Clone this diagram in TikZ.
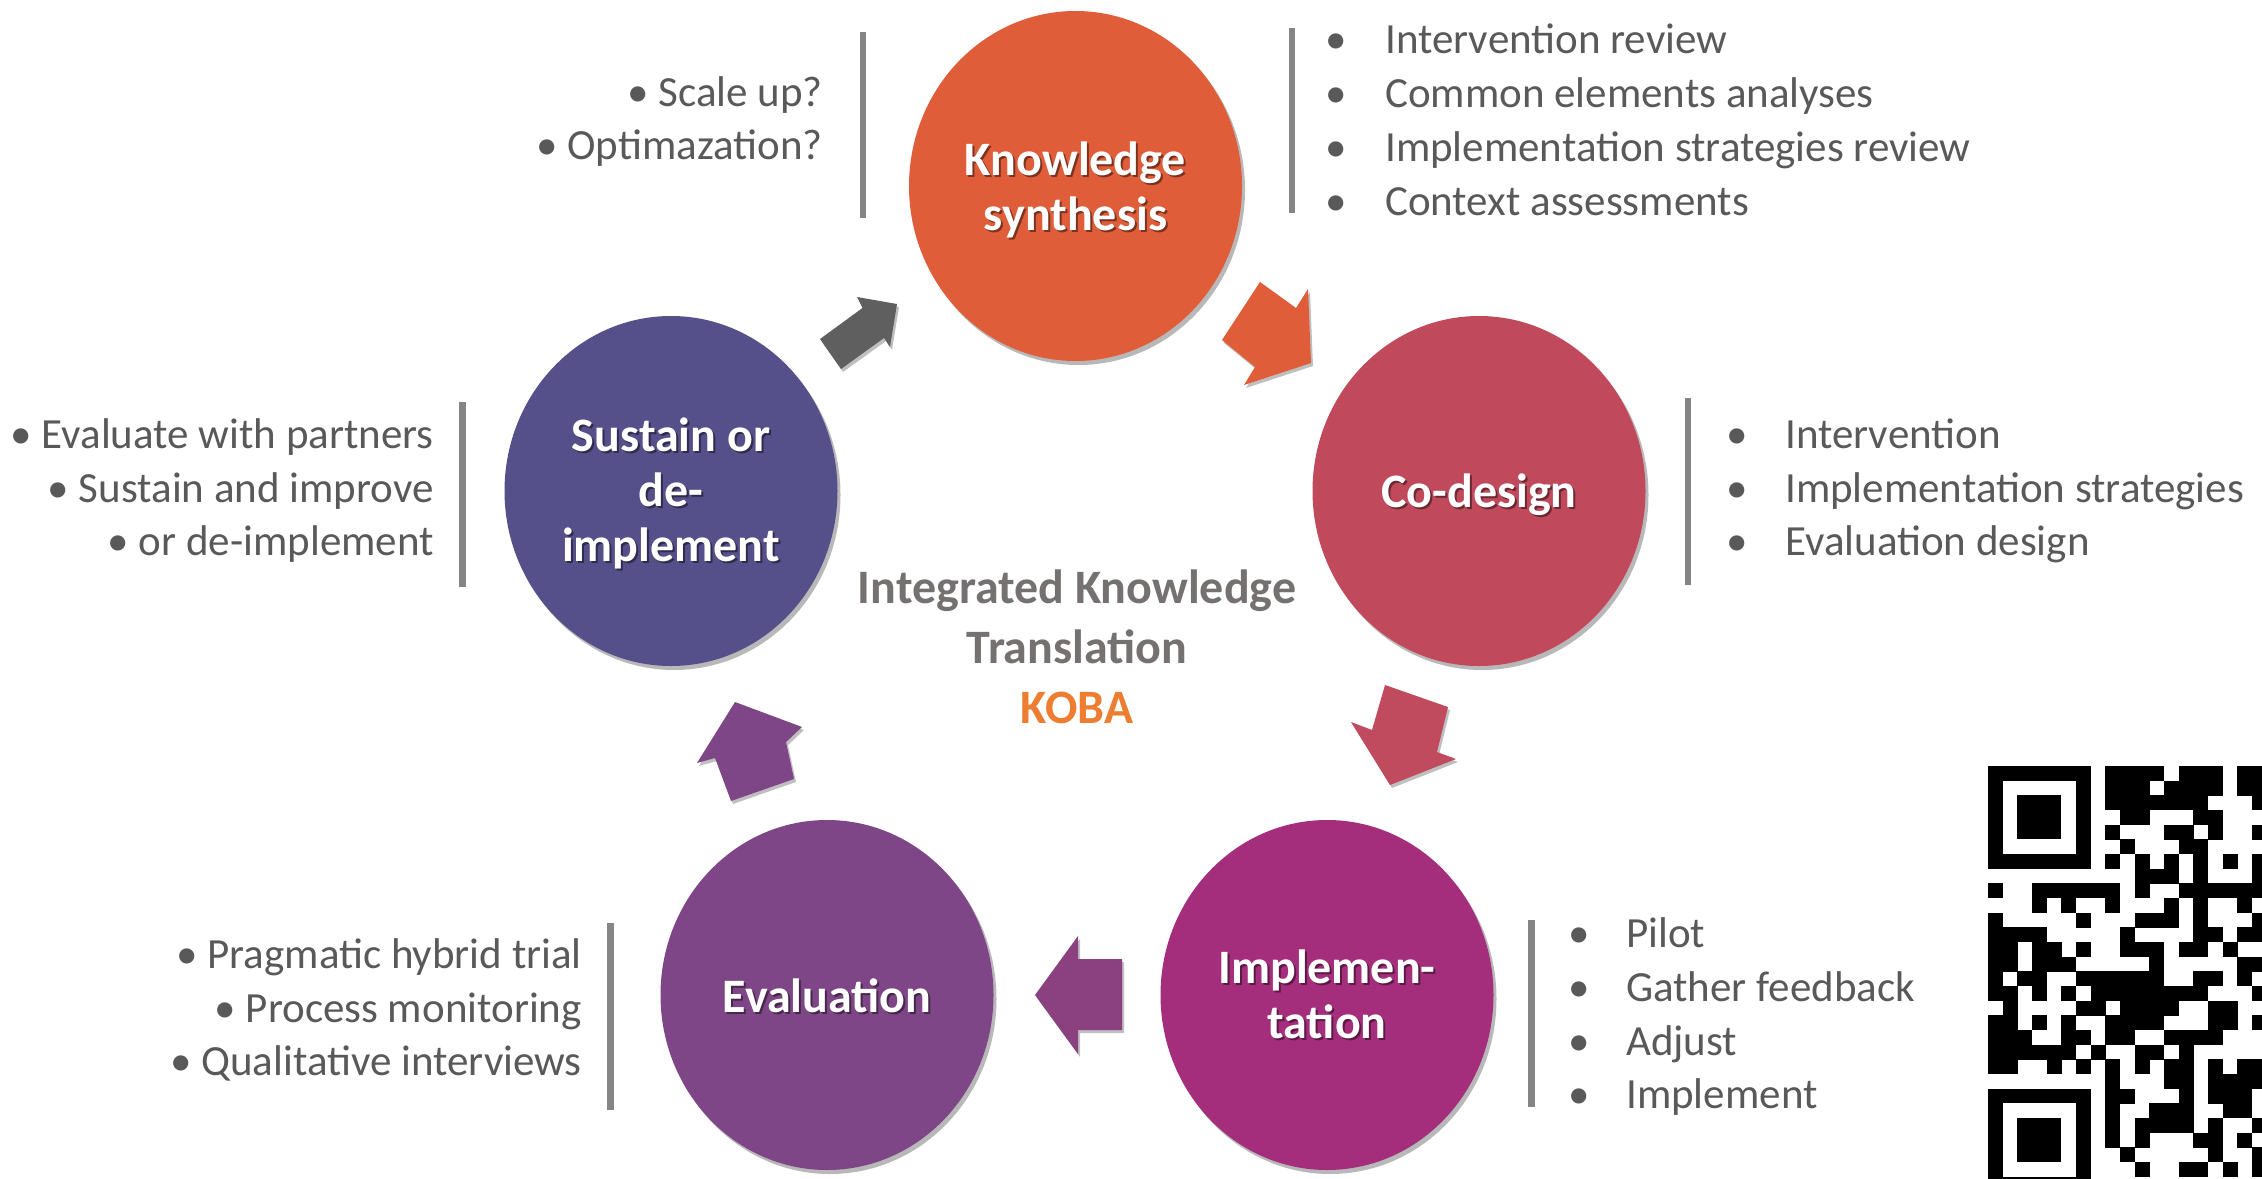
\documentclass[tikz,border=0pt]{standalone}
\usepackage{fontspec}
\setmainfont{Carlito}
\usetikzlibrary{shapes.geometric,shadows}
\definecolor{ksyn}{HTML}{E05D3A}
\definecolor{codes}{HTML}{C04A5C}
\definecolor{impl}{HTML}{A52E7C}
\definecolor{evalc}{HTML}{7E4687}
\definecolor{sust}{HTML}{554F8A}
\definecolor{arrgray}{HTML}{5F5F5F}
\definecolor{arrcod}{HTML}{C04A5E}
\definecolor{arrimp}{HTML}{8B4080}
\definecolor{txtgray}{HTML}{595959}
\definecolor{bargray}{HTML}{858585}
\definecolor{titlegray}{HTML}{767171}
\definecolor{kobaor}{HTML}{ED7D31}
\newcommand\sh[3][0pt]{\raisebox{-#1}[\height][\depth]{\rlap{\kern2pt\raisebox{-2pt}{\textcolor{#2}{#3}}}#3}}
\newcommand\blt[1]{\llap{•\hspace{#1}}}
\begin{document}
\begin{tikzpicture}[x=1pt,y=-1pt,
  stage/.style={ellipse, fill=#1, minimum width=333pt, minimum height=350pt,
    inner sep=0pt, text=white, align=center,
    font=\fontsize{48}{55}\selectfont\bfseries,
    drop shadow={shadow xshift=3pt, shadow yshift=-4pt, opacity=0.28, fill=black}},
  blockarrow/.style={fill=#1, drop shadow={shadow xshift=2pt, shadow yshift=-3pt, opacity=0.25, fill=black}},
  btxt/.style={text=txtgray, font=\fontsize{43}{54}\selectfont, inner sep=0pt},
  bar/.style={draw=bargray, line width=6.5pt},
  ttl/.style={text=titlegray, font=\fontsize{48}{55}\selectfont\bfseries, inner sep=0pt, anchor=base},
  qr/.style={fill=black}
]
\useasboundingbox (0,0) rectangle (2262,1178);
\fill[white] (0,0) rectangle (2262,1178);
\clip (0,0) rectangle (2262,1178);

% stages
\node[stage=ksyn] (ks) at (1075.5,186) {\sh[4.5pt]{ksyn!55!black}{Knowledge}\\\sh[4.5pt]{ksyn!55!black}{synthesis}};
\node[stage=codes] (cd) at (1479,491) {\sh[4.5pt]{codes!55!black}{Co-design}};
\node[stage=impl] (im) at (1327,995) {\sh{impl!55!black}{Implemen-}\\\sh{impl!55!black}{tation}};
\node[stage=evalc] (ev) at (827,995) {\sh[1.5pt]{evalc!55!black}{Evaluation}};
\node[stage=sust] (su) at (671,491) {\sh[3pt]{sust!55!black}{Sustain or}\\\sh[3pt]{sust!55!black}{de-}\\\sh[3pt]{sust!55!black}{implement}};

% block arrows
\fill[blockarrow=arrgray] (820,339) -- (862.5,308) -- (857,297) -- (897,304) -- (890,347) -- (884,338) -- (841,369) -- cycle;
\fill[blockarrow=ksyn] (1260,282) -- (1296,308) -- (1308,289) -- (1311,363) -- (1244,385) -- (1255,367) -- (1222,340) -- cycle;
\fill[blockarrow=arrcod] (1385,685) -- (1448,707) -- (1437,752) -- (1456,759) -- (1390,785) -- (1351,722) -- (1372,730) -- cycle;
\fill[blockarrow=arrimp] (1122,959) -- (1122,1030) -- (1078,1030) -- (1078,1054) -- (1035,995) -- (1078,936) -- (1078,959) -- cycle;
\fill[blockarrow=evalc] (735,702) -- (802,727) -- (786,742) -- (794,779) -- (731,801) -- (715,758) -- (697,763) -- cycle;

% centre title
\node[ttl] (t1) at (1077,603) {Integrated Knowledge};
\node[ttl] (t2) at (1077,663) {Translation};
\node[ttl, text=kobaor] (t3) at (1077,723) {KOBA};

% bars
\draw[bar] (863,32) -- (863,218);
\draw[bar] (1292,28) -- (1292,213);
\draw[bar] (462.5,402) -- (462.5,587);
\draw[bar] (1688,398) -- (1688,585);
\draw[bar] (610.5,923) -- (610.5,1110);
\draw[bar] (1531.5,920) -- (1531.5,1107);

% top-left list
\node[btxt,anchor=base east] (tl1) at (823,106) {• Scale up?};
\node[btxt,anchor=base east] (tl2) at (823,159) {• Optimazation?};
% top-right list
\node[btxt,anchor=base west] (tr1) at (1385,53) {\blt{38pt}Intervention review};
\node[btxt,anchor=base west] (tr2) at (1385,107) {\blt{38pt}Common elements analyses};
\node[btxt,anchor=base west] (tr3) at (1385,161) {\blt{38pt}Implementation strategies review};
\node[btxt,anchor=base west] (tr4) at (1385,215) {\blt{38pt}Context assessments};
% left list
\node[btxt,anchor=base east] (l1) at (434,448) {• Evaluate with partners};
\node[btxt,anchor=base east] (l2) at (434,502) {• Sustain and improve};
\node[btxt,anchor=base east] (l3) at (434,555) {• or de-implement};
% right list
\node[btxt,anchor=base west] (r1) at (1785,448) {\blt{37pt}Intervention};
\node[btxt,anchor=base west] (r2) at (1785,502) {\blt{37pt}Implementation strategies};
\node[btxt,anchor=base west] (r3) at (1785,555) {\blt{37pt}Evaluation design};
% bottom-left list
\node[btxt,anchor=base east] (bl1) at (582,968) {• Pragmatic hybrid trial};
\node[btxt,anchor=base east] (bl2) at (582,1022) {• Process monitoring};
\node[btxt,anchor=base east] (bl3) at (582,1075) {• Qualitative interviews};
% bottom-right list
\node[btxt,anchor=base west] (br1) at (1626,947) {\blt{36pt}Pilot};
\node[btxt,anchor=base west] (br2) at (1626,1001) {\blt{36pt}Gather feedback};
\node[btxt,anchor=base west] (br3) at (1626,1055) {\blt{36pt}Adjust};
\node[btxt,anchor=base west] (br4) at (1626,1108) {\blt{36pt}Implement};

% QR code
\def\m{14.667}
\foreach \fr in {0,22}{
  \fill[black] ({1988},{766+\fr*\m}) rectangle +({7*\m},{7*\m});
  \fill[white] ({1988+\m},{766+(\fr+1)*\m}) rectangle +({5*\m},{5*\m});
  \fill[black] ({1988+2*\m},{766+(\fr+2)*\m}) rectangle +({3*\m},{3*\m});
}
\foreach \r/\cs in {
  0/{8,9,10,11,13,14,15,17,18},
  1/{8,9,10,12,13,14,15,17,18},
  2/{8,9,10,11,12,13,14,18},
  3/{9,10,14,15},
  4/{8,12,13,15,18},
  5/{9,13,14},
  6/{8,10,12,14,16,18},
  7/{10,11,12,14,18},
  8/{0,3,4,5,6,7,8,10,13,14,15,16,17,18},
  9/{3,5,8,12,14,17},
  10/{0,6,10,11,12,14,18},
  11/{0,1,2,3,9,14,15,17,18},
  12/{0,1,3,4,6,9,10,11,13,14,16},
  13/{0,1,3,4,5,11,17,18},
  14/{0,2,3,6,7,8,9,10,11,14,15,17},
  15/{0,1,3,5,7,8,9,10,11,12,13,14,18},
  16/{1,6,7,9,10,11,12,15,16},
  17/{0,1,3,5,8,9,10,11,15,16,18},
  18/{0,1,2,5,6,8,9,12,13,14,15},
  19/{0,1,2,3,4,5,7,10,11,13},
  20/{0,1,4,6,8,10,12,13,15,17,18},
  21/{8,12,13,15,16,17,18},
  22/{8,9,13,15,16,17},
  23/{8,11,12,13,16,17},
  24/{8,10,11,12,13,15,18},
  25/{8,10,14,15,17},
  26/{9,15,18},
  27/{10,13,14,16,18}}{
  \foreach \c in \cs {
    \fill[qr] ({1988+\c*\m},{766+\r*\m}) rectangle +({\m+0.4},{\m+0.4});
  }
}
\end{tikzpicture}
\end{document}
